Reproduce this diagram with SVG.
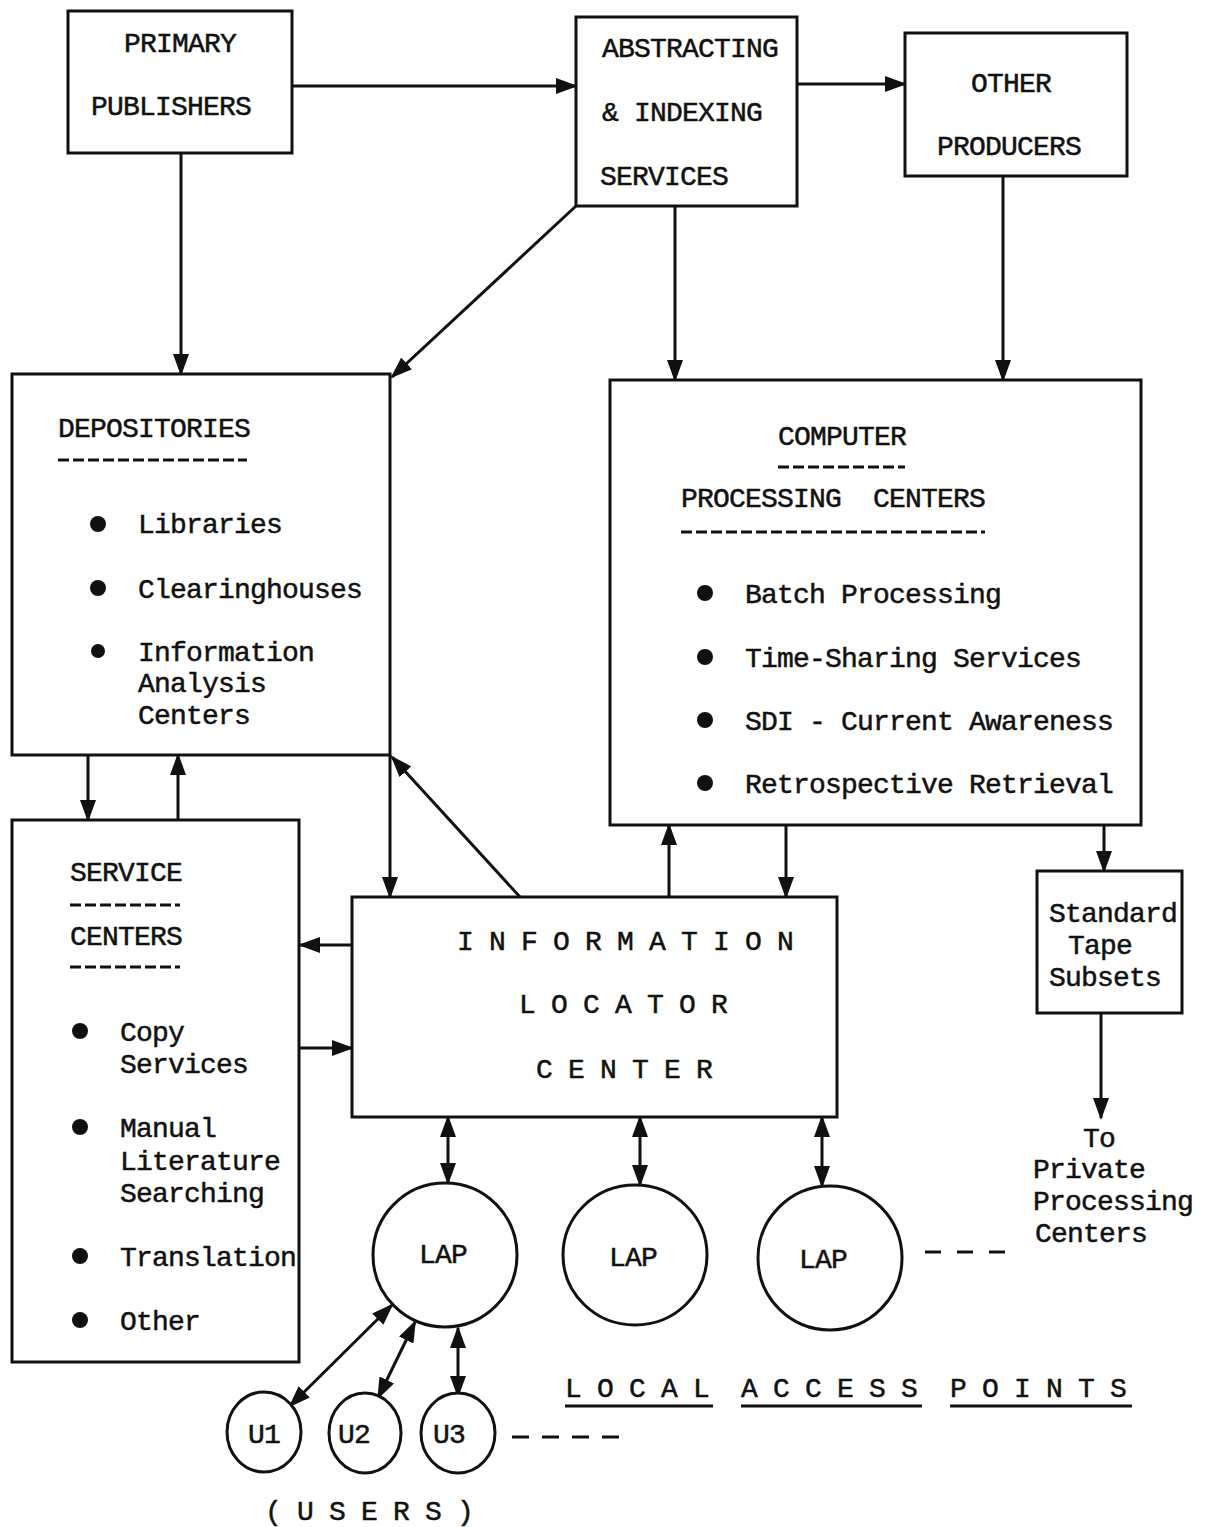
<svg xmlns="http://www.w3.org/2000/svg" width="1206" height="1527" viewBox="0 0 1206 1527">
<style>
text{font-family:"Liberation Mono","DejaVu Sans Mono",monospace;font-size:28px;letter-spacing:-0.8px;fill:#111;stroke:#111;stroke-width:0.5;white-space:pre}
.box{fill:#fff;stroke:#111;stroke-width:3}
.c{fill:none;stroke:#111;stroke-width:3}
.d{fill:none;stroke:#111;stroke-width:3;stroke-dasharray:11 4}
.d2{fill:none;stroke:#111;stroke-width:3}
.b{fill:#111}
.m{text-anchor:middle}
</style>
<defs>
<marker id="ah" markerUnits="userSpaceOnUse" markerWidth="22" markerHeight="16" refX="20" refY="8" orient="auto-start-reverse">
<path d="M0,0 L22,8 L0,16 Z" fill="#111"/>
</marker>
</defs>
<rect width="1206" height="1527" fill="#fff"/>
<g id="connectors">
<line class="c" x1="292" y1="86" x2="576" y2="86" marker-end="url(#ah)"/>
<line class="c" x1="797" y1="84" x2="905" y2="84" marker-end="url(#ah)"/>
<line class="c" x1="181" y1="153" x2="181" y2="374" marker-end="url(#ah)"/>
<line class="c" x1="576" y1="206" x2="392" y2="377" marker-end="url(#ah)"/>
<line class="c" x1="675" y1="206" x2="675" y2="380" marker-end="url(#ah)"/>
<line class="c" x1="1003" y1="176" x2="1003" y2="380" marker-end="url(#ah)"/>
<line class="c" x1="88" y1="755" x2="88" y2="820" marker-end="url(#ah)"/>
<line class="c" x1="178" y1="820" x2="178" y2="755" marker-end="url(#ah)"/>
<line class="c" x1="390" y1="755" x2="390" y2="897" marker-end="url(#ah)"/>
<line class="c" x1="520" y1="897" x2="392" y2="757" marker-end="url(#ah)"/>
<line class="c" x1="352" y1="945" x2="300" y2="945" marker-end="url(#ah)"/>
<line class="c" x1="300" y1="1048" x2="352" y2="1048" marker-end="url(#ah)"/>
<line class="c" x1="669" y1="897" x2="669" y2="825" marker-end="url(#ah)"/>
<line class="c" x1="786" y1="825" x2="786" y2="897" marker-end="url(#ah)"/>
<line class="c" x1="1104" y1="825" x2="1104" y2="871" marker-end="url(#ah)"/>
<line class="c" x1="1101" y1="1013" x2="1101" y2="1118" marker-end="url(#ah)"/>
<line class="c" x1="448" y1="1117" x2="448" y2="1183" marker-start="url(#ah)" marker-end="url(#ah)"/>
<line class="c" x1="640" y1="1117" x2="640" y2="1185" marker-start="url(#ah)" marker-end="url(#ah)"/>
<line class="c" x1="822" y1="1117" x2="822" y2="1186" marker-start="url(#ah)" marker-end="url(#ah)"/>
<line class="c" x1="392" y1="1305" x2="290" y2="1406" marker-start="url(#ah)" marker-end="url(#ah)"/>
<line class="c" x1="415" y1="1322" x2="378" y2="1398" marker-start="url(#ah)" marker-end="url(#ah)"/>
<line class="c" x1="458" y1="1328" x2="458" y2="1396" marker-start="url(#ah)" marker-end="url(#ah)"/>
<line class="d2" x1="925" y1="1252" x2="1005" y2="1252" style="stroke-dasharray:16 16"/>
<line class="d2" x1="512" y1="1437" x2="620" y2="1437" style="stroke-dasharray:17 13"/>
</g>
<g id="primary-publishers">
<rect class="box" x="68" y="11" width="224" height="142"/>
<text x="124" y="52">PRIMARY</text>
<text x="91" y="115">PUBLISHERS</text>
</g>
<g id="abstracting-indexing">
<rect class="box" x="576" y="17" width="221" height="189"/>
<text x="602" y="57">ABSTRACTING</text>
<text x="602" y="121">&amp; INDEXING</text>
<text x="600" y="185">SERVICES</text>
</g>
<g id="other-producers">
<rect class="box" x="905" y="33" width="222" height="143"/>
<text x="971" y="92">OTHER</text>
<text x="937" y="155">PRODUCERS</text>
</g>
<g id="depositories">
<rect class="box" x="12" y="374" width="378" height="381"/>
<text x="58" y="437">DEPOSITORIES</text>
<line class="d" x1="58" y1="460" x2="247" y2="460"/>
<circle class="b" cx="98" cy="524" r="8"/>
<circle class="b" cx="98" cy="588" r="8"/>
<circle class="b" cx="98" cy="651" r="7"/>
<text x="138" y="533">Libraries</text>
<text x="138" y="598">Clearinghouses</text>
<text x="138" y="661">Information</text>
<text x="138" y="692">Analysis</text>
<text x="138" y="724">Centers</text>
</g>
<g id="computer-processing">
<rect class="box" x="610" y="380" width="531" height="445"/>
<text x="778" y="445">COMPUTER</text>
<line class="d" x1="778" y1="467" x2="905" y2="467"/>
<text x="681" y="507">PROCESSING  CENTERS</text>
<line class="d" x1="681" y1="532" x2="985" y2="532"/>
<circle class="b" cx="705" cy="593" r="8"/>
<circle class="b" cx="705" cy="657" r="8"/>
<circle class="b" cx="705" cy="720" r="8"/>
<circle class="b" cx="705" cy="783" r="8"/>
<text x="745" y="603">Batch Processing</text>
<text x="745" y="667">Time-Sharing Services</text>
<text x="745" y="730">SDI - Current Awareness</text>
<text x="745" y="793">Retrospective Retrieval</text>
</g>
<g id="service-centers">
<rect class="box" x="12" y="820" width="287" height="542"/>
<text x="70" y="881">SERVICE</text>
<line class="d" x1="70" y1="905" x2="180" y2="905"/>
<text x="70" y="945">CENTERS</text>
<line class="d" x1="70" y1="967" x2="180" y2="967"/>
<circle class="b" cx="80" cy="1031" r="8"/>
<circle class="b" cx="80" cy="1127" r="8"/>
<circle class="b" cx="80" cy="1256" r="8"/>
<circle class="b" cx="80" cy="1320" r="8"/>
<text x="120" y="1041">Copy</text>
<text x="120" y="1073">Services</text>
<text x="120" y="1137">Manual</text>
<text x="120" y="1170">Literature</text>
<text x="120" y="1202">Searching</text>
<text x="120" y="1266">Translation</text>
<text x="120" y="1330">Other</text>
</g>
<g id="info-locator-center">
<rect class="box" x="352" y="897" width="485" height="220"/>
<text x="457" y="950">I N F O R M A T I O N</text>
<text x="519" y="1013">L O C A T O R</text>
<text x="536" y="1078">C E N T E R</text>
</g>
<g id="standard-tape">
<rect class="box" x="1037" y="871" width="145" height="142"/>
<text x="1049" y="922">Standard</text>
<text x="1068" y="954">Tape</text>
<text x="1049" y="986">Subsets</text>
</g>
<g id="private-label">
<text x="1083" y="1147">To</text>
<text x="1033" y="1178">Private</text>
<text x="1033" y="1210">Processing</text>
<text x="1035" y="1242">Centers</text>
</g>
<g id="lap1">
<ellipse class="box" cx="445" cy="1255" rx="72" ry="72"/>
<text class="m" x="443" y="1263">LAP</text>
</g>
<g id="lap2">
<ellipse class="box" cx="635" cy="1255" rx="72" ry="70"/>
<text class="m" x="633" y="1266">LAP</text>
</g>
<g id="lap3">
<ellipse class="box" cx="830" cy="1258" rx="72" ry="72"/>
<text class="m" x="823" y="1268">LAP</text>
</g>
<g id="local-access-label">
<text x="565" y="1397">L O C A L</text>
<text x="741" y="1397">A C C E S S</text>
<text x="950" y="1397">P O I N T S</text>
<line class="c" x1="565" y1="1406" x2="713" y2="1406"/>
<line class="c" x1="741" y1="1406" x2="922" y2="1406"/>
<line class="c" x1="950" y1="1406" x2="1132" y2="1406"/>
</g>
<g id="u1">
<ellipse class="box" cx="264" cy="1432" rx="37" ry="40"/>
<text class="m" x="264" y="1443">U1</text>
</g>
<g id="u2">
<ellipse class="box" cx="365" cy="1433" rx="36" ry="40"/>
<text class="m" x="354" y="1443">U2</text>
</g>
<g id="u3">
<ellipse class="box" cx="458" cy="1433" rx="37" ry="40"/>
<text class="m" x="449" y="1443">U3</text>
</g>
<g id="users-label">
<text x="265" y="1520">( U S E R S )</text>
</g>
</svg>
